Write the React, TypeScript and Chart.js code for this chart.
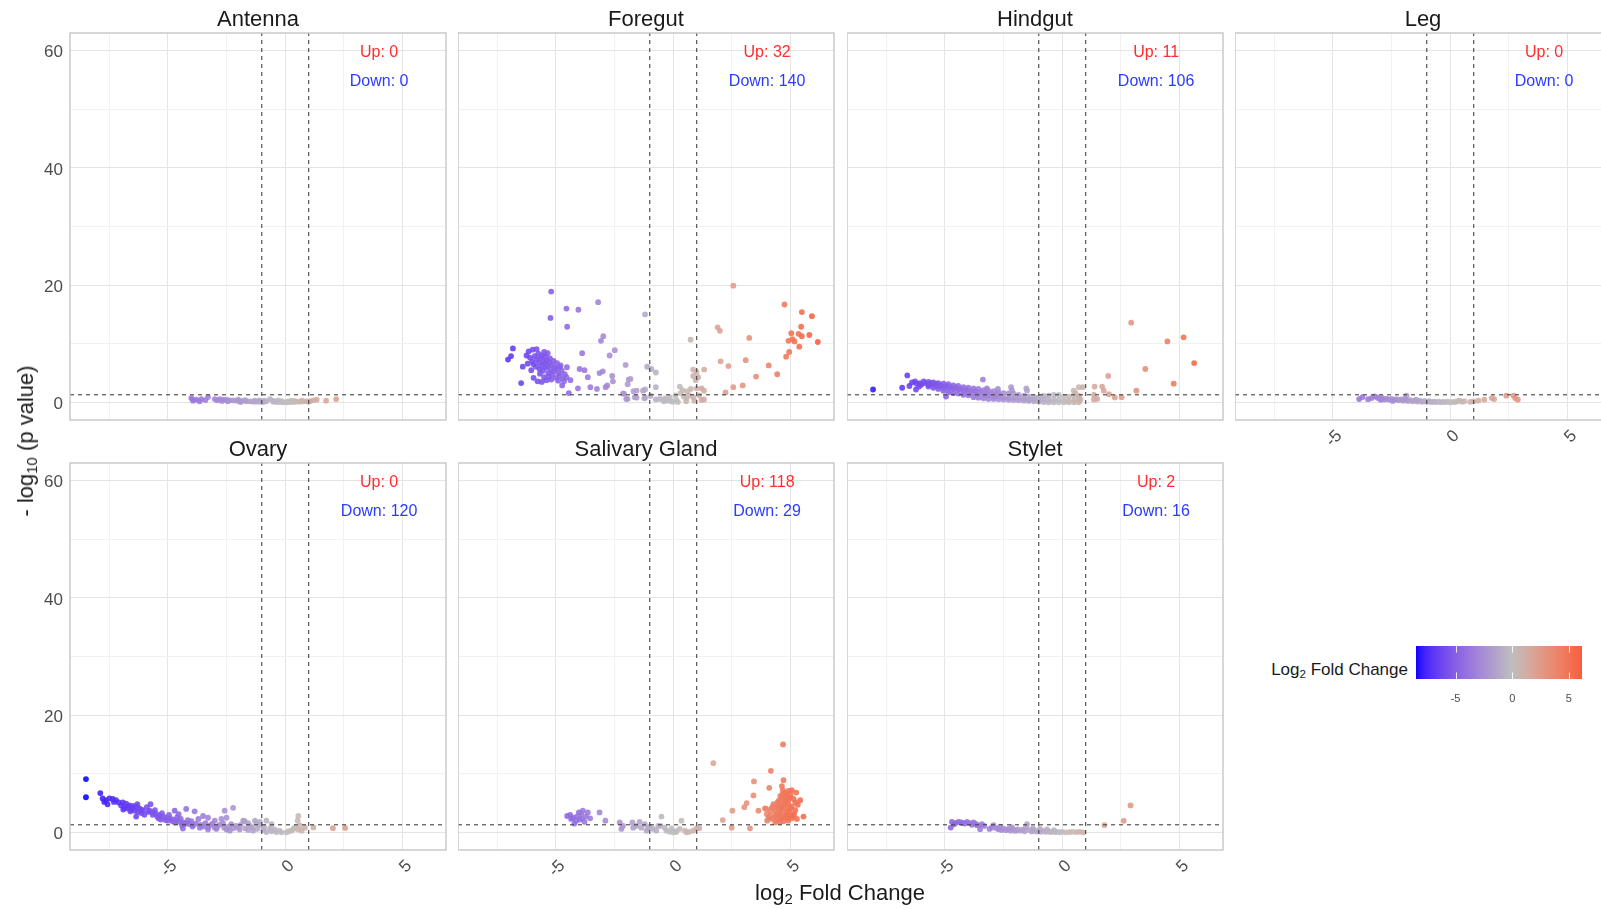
import React, { useEffect, useRef } from "react";
import { Chart, registerables } from "chart.js";

Chart.register(...registerables);

type Pt = [number, number];

// ---- data ----
const tissues = ["Antenna", "Foregut", "Hindgut", "Leg", "Ovary", "Salivary Gland", "Stylet"];
const upCounts = [0, 32, 11, 0, 0, 118, 2];
const downCounts = [0, 140, 106, 0, 120, 29, 16];
const xTickValues = [-5, 0, 5];
const yTickValues = [0, 20, 40, 60];
const foldCutoff = 1;
const pValueCutoff = 0.05;
const labelAt = { x: 4, upY: 60, downY: 55 };

// log2 fold change, -log10 p value
const antenna: Pt[] = [
  [-4.0, 0.74], [-3.93, 0.3], [-3.79, 0.46], [-3.65, 0.18], [-3.57, 0.57], [-3.29, 0.91], [-3.0, 0.57],
  [-2.79, 0.57], [-2.65, 0.46], [-2.51, 0.46], [-2.36, 0.35], [-2.22, 0.35], [-2.08, 0.29], [-1.94, 0.18],
  [-1.79, 0.29], [-1.65, 0.18], [-1.51, 0.18], [-1.37, 0.12], [-1.22, 0.12], [-1.08, 0.12], [-0.94, 0.06],
  [-0.8, 0.18], [-0.65, 0.57], [-0.51, 0.12], [-0.37, 0.06], [-0.23, 0.06], [-0.08, 0.02], [0.06, 0.02],
  [0.2, 0.06], [0.34, 0.06], [0.48, 0.12], [0.63, 0.12], [0.77, 0.18], [0.91, 0.18], [1.06, 0.23],
  [1.2, 0.35], [1.34, 0.46], [1.74, 0.29], [2.17, 0.57], [-2.9, 0.35], [-2.45, 0.2], [-2.0, 0.45],
  [-1.7, 0.4], [-1.3, 0.3], [-0.9, 0.3], [-0.5, 0.25], [-0.15, 0.2], [0.1, 0.15], [0.4, 0.25], [0.7, 0.3],
  [1.0, 0.1], [-3.4, 0.4], [-2.7, 0.25], [-1.9, 0.05], [-1.1, 0.35], [-0.3, 0.35], [0.25, 0.3],
];

const foregut: Pt[] = [
  [-5.2, 18.9], [-5.23, 14.4], [-4.55, 16.0], [-4.04, 15.8], [-3.2, 17.1], [-4.52, 12.9], [-1.2, 15.0],
  [-2.98, 11.3], [-3.08, 10.5], [-2.49, 8.9], [-2.71, 8.0], [-3.88, 8.4], [-6.83, 9.2], [-6.91, 7.9],
  [-7.04, 7.3], [-6.16, 8.7], [-5.99, 9.0], [-5.82, 9.1], [-6.41, 6.1], [-6.48, 3.3], [-4.45, 1.6],
  [-4.73, 2.9], [-4.38, 3.8], [-4.53, 6.0], [-4.83, 6.0], [-3.99, 5.7], [-3.78, 5.5], [-3.64, 4.3],
  [-4.06, 2.4], [-3.53, 2.6], [-3.25, 2.3], [-3.14, 5.0], [-3.0, 5.3], [-2.6, 4.5], [-2.57, 3.6],
  [-2.81, 2.9], [-2.88, 2.6], [-2.03, 6.4], [-1.9, 3.9], [-1.94, 3.1], [-2.14, 1.5], [-2.0, 0.6],
  [-1.69, 1.9], [-1.64, 0.9], [-1.29, 2.0], [-1.23, 0.7], [-1.11, 6.1], [-0.93, 5.7], [-0.74, 5.1],
  [-0.74, 2.6], [-0.74, 0.5], [-0.97, 1.1], [-1.82, 4.0], [-1.2, 2.2], [-1.2, 0.8], [-1.56, 2.0],
  [-1.56, 0.8], [-2.1, 1.5], [-1.95, 0.6],
  [-6.1, 7.6], [-6.0, 7.0], [-5.95, 6.5], [-5.9, 7.9], [-5.85, 6.1], [-5.8, 7.3], [-5.75, 8.3],
  [-5.72, 6.8], [-5.7, 5.7], [-5.68, 4.9], [-5.65, 7.6], [-5.6, 6.3], [-5.58, 8.0], [-5.55, 5.4],
  [-5.52, 7.0], [-5.5, 4.3], [-5.48, 6.6], [-5.45, 7.8], [-5.42, 5.9], [-5.4, 3.8], [-5.38, 7.2],
  [-5.35, 6.2], [-5.32, 5.0], [-5.3, 4.4], [-5.28, 6.8], [-5.25, 7.5], [-5.22, 5.6], [-5.2, 3.9],
  [-5.18, 6.4], [-5.15, 4.7], [-5.1, 7.1], [-5.08, 5.3], [-5.05, 6.0], [-5.0, 4.2], [-4.98, 5.7],
  [-4.95, 6.7], [-4.9, 3.7], [-4.88, 5.0], [-4.85, 4.5], [-4.8, 6.3], [-4.75, 5.4], [-4.7, 4.1],
  [-4.65, 3.6], [-4.62, 4.8], [-6.05, 5.5], [-6.2, 6.6], [-5.95, 4.2], [-5.78, 3.6], [-6.25, 8.0],
  [-5.5, 8.6], [-5.35, 8.4], [-5.6, 3.5], [-4.55, 4.3],
  [-0.57, 0.6], [-0.36, 0.7], [-0.22, 0.3], [-0.08, 0.2], [0.14, 0.4], [0.28, 2.7], [0.4, 2.1],
  [0.45, 1.0], [0.57, 0.6], [0.68, 1.2], [0.85, 0.9], [0.85, 5.6], [0.85, 4.5], [0.96, 3.8],
  [0.99, 5.2], [1.06, 4.3], [0.0, 0.1], [0.2, 0.05], [-0.4, 0.2], [0.1, 1.2], [0.32, 1.6], [0.6, 1.9],
  [0.75, 2.3], [0.9, 0.3], [1.0, 2.4], [-0.15, 0.9], [0.55, 0.2], [1.1, 1.2], [1.2, 0.4],
  [0.74, 10.7], [1.32, 5.6], [1.21, 2.4], [1.31, 2.0], [1.31, 0.5], [1.89, 12.8], [1.99, 12.2],
  [2.02, 7.0], [2.35, 6.2], [2.56, 19.9], [3.09, 7.2], [3.24, 11.0], [2.23, 1.7], [2.56, 2.6],
  [2.96, 2.9], [3.53, 4.4], [4.07, 6.3], [4.43, 4.8], [4.74, 16.7], [5.48, 15.4], [5.91, 14.7],
  [5.45, 12.9], [5.03, 11.8], [5.34, 11.7], [5.48, 11.3], [5.8, 11.5], [4.91, 10.5], [5.08, 10.8],
  [5.17, 10.4], [6.16, 10.3], [5.37, 9.5], [4.94, 8.6], [4.81, 7.8],
];

const hindgut: Pt[] = [
  [2.94, 13.6], [4.48, 10.4], [5.17, 11.1], [5.62, 6.7], [3.54, 5.7], [4.75, 3.2], [1.96, 4.5],
  [3.16, 2.0], [1.38, 2.7], [1.7, 2.7], [1.77, 2.0], [1.99, 1.4], [2.24, 0.85], [2.53, 0.9], [1.35, 1.3],
  [1.49, 0.6], [1.35, 0.5], [0.71, 2.6], [0.88, 2.6], [0.49, 2.0], [0.57, 1.6], [0.71, 1.0], [0.78, 0.5],
  [-8.06, 2.2], [-6.6, 4.6], [-6.82, 2.5], [-6.51, 2.8], [-6.27, 3.6], [-6.23, 2.2], [-6.06, 3.3],
  [-5.85, 3.3], [-5.7, 3.0], [-4.95, 1.0], [-3.38, 3.9], [-3.21, 2.4], [-2.74, 2.3], [-2.18, 2.6],
  [-2.14, 2.0], [-1.53, 2.4], [-1.5, 2.0], [-2.71, 1.3], [-6.4, 3.4], [-6.2, 3.2], [-6.0, 3.0],
  [-5.9, 3.6], [-6.1, 2.7],
  [-5.7, 3.5], [-5.7, 3.1], [-5.7, 2.7], [-5.49, 3.4], [-5.49, 3.0], [-5.49, 2.5],
  [-5.28, 3.3], [-5.28, 2.8], [-5.28, 2.3], [-5.06, 3.2], [-5.06, 2.6], [-5.06, 2.0],
  [-4.85, 3.1], [-4.85, 2.4], [-4.85, 1.7], [-4.64, 2.9], [-4.64, 2.3], [-4.64, 1.6],
  [-4.43, 2.8], [-4.43, 2.2], [-4.43, 1.5], [-4.21, 2.6], [-4.21, 1.9], [-4.21, 1.3],
  [-4.0, 2.5], [-4.0, 1.8], [-4.0, 1.2], [-3.78, 2.4], [-3.78, 1.6], [-3.78, 0.9],
  [-3.57, 2.3], [-3.57, 1.5], [-3.57, 0.8], [-3.35, 2.1], [-3.35, 1.3], [-3.35, 0.7],
  [-3.14, 2.0], [-3.14, 1.2], [-3.14, 0.6], [-2.92, 1.9], [-2.92, 1.0], [-2.92, 0.6],
  [-2.71, 1.7], [-2.71, 1.0], [-2.71, 0.55], [-2.5, 1.6], [-2.5, 0.9], [-2.5, 0.5],
  [-2.28, 1.55], [-2.28, 0.8], [-2.28, 0.45], [-2.07, 1.5], [-2.07, 0.8], [-2.07, 0.4],
  [-1.86, 1.3], [-1.86, 0.7], [-1.86, 0.35], [-1.64, 1.1], [-1.64, 0.6], [-1.64, 0.3],
  [-1.43, 1.0], [-1.43, 0.5], [-1.43, 0.25], [-1.21, 0.9], [-1.21, 0.45], [-1.21, 0.2],
  [-1.0, 0.9], [-1.0, 0.4], [-1.0, 0.12], [-0.79, 1.1], [-0.79, 0.5], [-0.79, 0.05],
  [-0.58, 1.15], [-0.58, 0.45], [-0.58, 0.02], [-0.36, 1.3], [-0.36, 0.5], [-0.36, 0.02],
  [-0.15, 1.3], [-0.15, 0.45], [-0.15, 0.02], [0.07, 1.0], [0.07, 0.35], [0.07, 0.02],
  [0.28, 1.0], [0.28, 0.3], [0.28, 0.02], [0.5, 1.1], [0.5, 0.35], [0.5, 0.02],
  [0.71, 1.1], [0.71, 0.4], [0.71, 0.02],
  [-5.6, 3.3], [-5.38, 3.2], [-5.17, 2.9], [-4.95, 2.8], [-4.74, 2.6], [-4.53, 2.5], [-4.32, 2.3],
  [-4.1, 2.2], [-3.9, 2.0], [-3.68, 1.9], [-3.46, 1.8], [-3.25, 1.6], [-3.03, 1.5], [-2.82, 1.4],
];

const leg: Pt[] = [
  [-3.88, 0.57], [-3.74, 0.91], [-3.35, 0.74], [-3.21, 1.03], [-3.1, 0.8], [-3.0, 0.6], [-2.9, 0.75],
  [-2.8, 0.5], [-2.7, 0.65], [-2.6, 0.45], [-2.5, 0.6], [-2.4, 0.4], [-2.3, 0.55], [-2.2, 0.35],
  [-2.1, 0.5], [-2.0, 0.3], [-1.86, 1.14], [-1.9, 0.45], [-1.8, 0.25], [-1.7, 0.4], [-1.6, 0.2],
  [-1.5, 0.35], [-1.4, 0.15], [-1.3, 0.3], [-1.2, 0.1], [-1.1, 0.25], [-1.0, 0.1], [-0.9, 0.2],
  [-0.8, 0.05], [-0.7, 0.15], [-0.6, 0.05], [-0.5, 0.15], [-0.4, 0.02], [-0.3, 0.1], [-0.2, 0.05],
  [-0.1, 0.15], [0.0, 0.02], [0.1, 0.1], [0.2, 0.05], [0.3, 0.2], [0.4, 0.3], [0.5, 0.1], [0.6, 0.2],
  [-3.5, 0.55], [-2.95, 0.45], [-2.45, 0.25], [-1.95, 0.6], [-1.45, 0.45], [0.99, 0.18], [1.2, 0.29],
  [1.45, 0.46], [1.77, 0.74], [1.87, 0.57], [2.39, 1.14], [2.7, 1.14], [2.88, 0.46], [2.77, 0.74],
  [0.85, 0.1],
];

const ovary: Pt[] = [
  [-8.49, 9.1], [-8.49, 6.0], [-7.88, 6.7], [-7.78, 5.8], [-7.64, 5.5], [-7.49, 5.8], [-7.35, 5.7],
  [-7.21, 5.5], [-7.71, 5.2], [-7.57, 4.8], [-6.92, 5.1], [-6.78, 4.9], [-6.64, 4.6], [-6.49, 4.5],
  [-6.35, 4.4], [-6.21, 4.1], [-6.07, 3.8], [-6.99, 4.6], [-6.85, 4.2], [-6.71, 4.1], [-6.56, 4.0],
  [-6.42, 3.7], [-6.28, 3.5], [-6.13, 3.3], [-6.35, 2.7], [-5.74, 4.8], [-5.78, 3.7], [-5.64, 3.4],
  [-5.5, 3.1], [-5.35, 2.95], [-5.21, 2.7], [-5.07, 2.55], [-4.93, 2.4], [-4.79, 2.2], [-4.64, 2.0],
  [-4.5, 1.8], [-4.36, 1.7], [-4.22, 1.6], [-4.07, 1.4], [-3.93, 1.2], [-4.71, 3.7], [-4.54, 3.1],
  [-4.22, 4.0], [-3.86, 3.6], [-3.5, 2.8], [-3.29, 2.5], [-2.58, 3.7], [-2.22, 4.2], [-3.0, 2.0],
  [-2.72, 2.3], [-2.5, 2.5], [-1.79, 2.0], [-1.58, 1.6], [-1.29, 2.0], [-1.08, 1.8], [-0.8, 2.0],
  [-0.58, 1.4], [0.56, 2.8], [0.53, 2.0],
  [-4.36, 0.65], [-3.64, 0.8], [-3.29, 0.5], [-2.93, 0.6], [-2.5, 0.5], [-2.36, 0.3], [-1.94, 0.5],
  [-1.58, 0.4], [-1.37, 0.3], [-0.94, 0.4], [-0.8, 0.05], [-0.58, 0.2], [-0.37, 0.05], [-0.16, 0.02],
  [0.06, 0.02], [0.27, 0.3], [0.41, 0.8], [0.56, 0.5], [0.7, 0.3], [0.84, 0.8], [-1.73, 1.9],
  [-1.23, 1.6], [-1.08, 1.2], [1.2, 0.85], [2.03, 0.73], [2.55, 0.77],
  [-6.9, 3.9], [-6.6, 3.6], [-6.3, 4.8], [-6.0, 3.0], [-5.9, 4.3], [-5.55, 3.8], [-5.4, 2.4],
  [-5.25, 3.3], [-5.1, 2.1], [-4.95, 3.0], [-4.8, 1.9], [-4.6, 2.6], [-4.45, 2.3], [-4.3, 1.4],
  [-4.15, 2.1], [-4.0, 1.9], [-3.8, 1.5], [-3.7, 2.3], [-3.6, 1.3], [-3.4, 1.6], [-3.2, 1.2],
  [-3.1, 1.5], [-2.9, 1.0], [-2.8, 1.3], [-2.65, 1.6], [-2.4, 1.0], [-2.3, 1.4], [-2.1, 1.1],
  [-2.0, 0.8], [-1.9, 1.3], [-1.5, 1.1], [-1.4, 0.8], [-7.1, 5.1], [-7.3, 5.2], [-6.7, 4.4],
  [-6.5, 4.2], [-6.15, 3.9], [-5.85, 3.5], [-5.65, 3.0], [-5.45, 2.7], [-5.3, 2.2], [-5.0, 2.0],
  [-4.7, 1.7], [-4.4, 1.2], [-3.95, 1.0], [-3.5, 1.0], [-3.3, 0.9], [-3.0, 0.8], [-2.6, 0.8],
  [-2.2, 0.7], [-1.7, 0.7], [-1.2, 0.6], [-0.9, 0.9], [-0.65, 0.7], [-0.45, 0.5], [-0.25, 0.3],
  [0.15, 0.2], [0.35, 0.6], [0.62, 1.2],
];

const salivaryGland: Pt[] = [
  [-4.52, 2.8], [-4.39, 3.0], [-4.28, 2.5], [-4.21, 1.5], [-4.11, 2.7], [-4.02, 3.4], [-3.92, 3.1],
  [-3.88, 2.3], [-3.78, 1.8], [-3.71, 2.7], [-3.64, 3.4], [-3.54, 2.4], [-3.99, 2.2], [-4.13, 2.0],
  [-3.14, 3.4], [-2.89, 2.0], [-4.35, 2.3], [-3.85, 3.7],
  [-2.28, 1.7], [-2.21, 0.6], [-2.14, 1.1], [-1.74, 1.7], [-1.71, 0.8], [-1.57, 1.1], [-1.43, 1.8],
  [-1.36, 0.8], [-1.21, 1.4], [-1.07, 0.7], [-0.86, 0.6], [-0.72, 0.3], [-0.5, 2.7], [-0.54, 1.1],
  [-0.29, 0.3], [-0.15, 0.1], [0.0, 0.02], [0.14, 0.2], [0.35, 2.0], [0.28, 0.6], [0.5, 0.3],
  [0.68, 0.1], [0.85, 0.3], [0.99, 0.7], [1.11, 0.7], [-0.36, 0.8], [-0.07, 0.7], [-0.64, 1.1],
  [-1.0, 1.0], [0.11, 0.05], [0.57, 0.02], [-1.14, 0.3],
  [1.71, 11.8], [4.68, 15.0], [4.16, 10.5], [3.44, 8.7], [4.7, 8.9], [4.09, 7.6], [3.42, 6.3],
  [3.13, 5.0], [3.03, 4.3], [2.52, 3.7], [2.11, 2.1], [3.63, 3.7], [3.91, 4.1], [4.63, 7.9],
  [4.67, 7.2], [5.05, 7.2], [5.24, 6.8], [4.84, 6.5], [5.41, 5.5], [5.31, 4.7], [5.55, 2.7],
  [5.27, 2.3], [3.99, 3.1], [4.06, 2.4], [4.2, 4.2], [4.34, 3.7], [4.48, 4.6], [4.63, 5.7],
  [4.77, 5.4], [4.91, 4.8], [4.98, 5.9], [5.13, 5.7], [4.56, 3.4], [4.34, 2.8], [4.2, 2.3],
  [4.41, 2.0], [4.7, 2.5], [4.84, 4.0], [4.63, 4.2], [4.77, 3.1], [4.95, 3.4], [5.05, 4.4],
  [4.44, 5.1], [4.27, 4.8], [3.96, 4.0], [4.13, 2.8], [4.56, 2.3], [4.87, 2.4], [5.09, 2.8],
  [5.2, 5.1], [4.56, 6.2], [4.77, 6.8], [4.91, 7.1], [2.49, 0.8], [3.27, 0.7],
  [4.5, 2.9], [4.6, 3.8], [4.7, 4.5], [4.8, 5.0], [4.9, 5.5], [4.75, 6.1], [4.65, 4.9], [4.4, 3.2],
  [4.3, 2.5], [4.45, 4.2], [4.85, 3.6], [5.0, 4.1], [5.15, 3.1], [4.55, 1.8], [4.7, 1.9], [4.35, 1.7],
  [4.0, 2.0], [4.15, 3.6], [4.25, 4.4], [4.5, 5.4], [4.65, 6.5], [4.85, 5.9], [5.0, 6.4], [4.9, 2.0],
  [5.05, 2.4], [5.2, 3.8], [4.6, 2.6], [4.8, 2.8], [4.95, 2.9],
];

const stylet: Pt[] = [
  [-4.7, 1.8], [-4.75, 0.83], [-4.61, 1.4], [-4.42, 1.8], [-4.24, 1.6], [-4.06, 1.8], [-3.78, 1.7],
  [-3.64, 1.24], [-3.5, 0.56], [-3.42, 1.4], [-3.32, 1.1], [-2.99, 0.84], [-2.93, 1.24], [-2.71, 0.56],
  [-1.5, 1.4], [1.8, 1.24], [2.62, 1.98], [2.91, 4.6], [-4.55, 1.6], [-4.3, 1.7], [-4.15, 1.5],
  [-3.95, 1.6], [-3.85, 1.3], [-3.7, 1.5], [-3.55, 1.2],
  [-2.8, 0.7], [-2.6, 0.4], [-2.5, 0.65], [-2.4, 0.35], [-2.3, 0.6], [-2.2, 0.3], [-2.1, 0.55],
  [-2.0, 0.25], [-1.9, 0.5], [-1.8, 0.3], [-1.7, 0.45], [-1.6, 0.2], [-1.4, 0.4], [-1.3, 0.15],
  [-1.2, 0.35], [-1.1, 0.15], [-1.0, 0.3], [-0.9, 0.1], [-0.8, 0.25], [-0.7, 0.1], [-0.6, 0.2],
  [-0.5, 0.05], [-0.4, 0.15], [-0.3, 0.05], [-0.2, 0.1], [-0.1, 0.02], [0.0, 0.1], [0.15, 0.02],
  [0.3, 0.05], [0.45, 0.1], [0.6, 0.05], [0.75, 0.1], [0.9, 0.02], [-1.55, 0.9], [-1.25, 0.7],
  [-0.95, 0.6], [-0.65, 0.5], [-0.35, 0.4], [-2.15, 0.9], [-2.65, 1.0], [-3.1, 0.6],
];

const panelData: Pt[][] = [antenna, foregut, hindgut, leg, ovary, salivaryGland, stylet];

// ---- look & layout ----
const FONT = '"Liberation Sans", Arial, Helvetica, sans-serif';
const X_MIN = -9.17;
const X_MAX = 6.85;
const Y_MIN = -3;
const Y_MAX = 63;
const PANEL_W = 376;
const PANEL_H = 387;
const COL_X = [70, 458, 847, 1235];
const ROW_Y = [33, 463];
const TITLE_H = 33;
const YAXIS_W = 70;
const XAXIS_H = 44;
const GRID_MAJOR = "#e4e4e4";
const GRID_MINOR = "#f1f1f1";
const FRAME = "#c6c6c6";
const REF_LINE = "#444444";
const TICK_TEXT = "#4d4d4d";
const UP_COLOR = "#ff2d2d";
const DOWN_COLOR = "#2b3bff";

// ---- diverging colour scale (blue - grey - red), interpolated in CIELAB ----
const LOW_RGB = [0, 0, 255];
const MID_RGB = [190, 190, 190];
const HIGH_RGB = [255, 0, 0];

function toLin(c: number) {
  const v = c / 255;
  return v <= 0.04045 ? v / 12.92 : Math.pow((v + 0.055) / 1.055, 2.4);
}
function fromLin(c: number) {
  const v = c <= 0.0031308 ? 12.92 * c : 1.055 * Math.pow(c, 1 / 2.4) - 0.055;
  return Math.round(Math.max(0, Math.min(1, v)) * 255);
}
const XN = 0.95047, YN = 1.0, ZN = 1.08883;
function rgbToLab(rgb: number[]) {
  const r = toLin(rgb[0]), g = toLin(rgb[1]), b = toLin(rgb[2]);
  const X = (0.4124 * r + 0.3576 * g + 0.1805 * b) / XN;
  const Y = (0.2126 * r + 0.7152 * g + 0.0722 * b) / YN;
  const Z = (0.0193 * r + 0.1192 * g + 0.9505 * b) / ZN;
  const f = (t: number) => (t > 0.008856 ? Math.cbrt(t) : 7.787 * t + 16 / 116);
  const fx = f(X), fy = f(Y), fz = f(Z);
  return [116 * fy - 16, 500 * (fx - fy), 200 * (fy - fz)];
}
function labToRgb(lab: number[]) {
  const fy = (lab[0] + 16) / 116;
  const fx = fy + lab[1] / 500;
  const fz = fy - lab[2] / 200;
  const inv = (t: number) => (t * t * t > 0.008856 ? t * t * t : (t - 16 / 116) / 7.787);
  const X = inv(fx) * XN, Y = inv(fy) * YN, Z = inv(fz) * ZN;
  const r = 3.2406 * X - 1.5372 * Y - 0.4986 * Z;
  const g = -0.9689 * X + 1.8758 * Y + 0.0415 * Z;
  const b = 0.0557 * X - 0.204 * Y + 1.057 * Z;
  return [fromLin(r), fromLin(g), fromLin(b)];
}
const LOW_LAB = rgbToLab(LOW_RGB);
const MID_LAB = rgbToLab(MID_RGB);
const HIGH_LAB = rgbToLab(HIGH_RGB);

const allX = panelData.flat().map((p) => p[0]);
const colourLo = Math.min(...allX);
const colourHi = Math.max(...allX);
const colourSpan = Math.max(Math.abs(colourLo), Math.abs(colourHi));

function foldColour(v: number, alpha = 1) {
  const t = Math.max(0, Math.min(1, 0.5 + v / (2 * colourSpan)));
  let a: number[], b: number[], s: number;
  if (t < 0.5) {
    a = LOW_LAB; b = MID_LAB; s = t / 0.5;
  } else {
    a = MID_LAB; b = HIGH_LAB; s = (t - 0.5) / 0.5;
  }
  const lab = [0, 1, 2].map((i) => a[i] + (b[i] - a[i]) * s);
  const [r, g, bl] = labToRgb(lab);
  return `rgba(${r},${g},${bl},${alpha})`;
}

const pThreshold = -Math.log10(pValueCutoff);

// keep the plotting area fixed: no extra room for tick labels
function lockPadding(s: any) {
  s.paddingTop = 0;
  s.paddingBottom = 0;
  s.paddingLeft = 0;
  s.paddingRight = 0;
}

// panel frame on top of everything
const framePlugin = {
  id: "panelFrame",
  afterDraw(chart: any) {
    const { ctx, chartArea: a } = chart;
    ctx.save();
    ctx.strokeStyle = FRAME;
    ctx.lineWidth = 1.4;
    ctx.strokeRect(a.left, a.top, a.right - a.left, a.bottom - a.top);
    ctx.restore();
  },
};

function countLabelPlugin(up: number, down: number) {
  return {
    id: "countLabels",
    afterDatasetsDraw(chart: any) {
      const { ctx } = chart;
      const xs = chart.scales.x;
      const ys = chart.scales.y;
      ctx.save();
      ctx.font = `16px ${FONT}`;
      ctx.textAlign = "center";
      ctx.textBaseline = "middle";
      ctx.fillStyle = UP_COLOR;
      ctx.fillText(`Up: ${up}`, xs.getPixelForValue(labelAt.x), ys.getPixelForValue(labelAt.upY) + 2);
      ctx.fillStyle = DOWN_COLOR;
      ctx.fillText(`Down: ${down}`, xs.getPixelForValue(labelAt.x), ys.getPixelForValue(labelAt.downY) + 1.5);
      ctx.restore();
    },
  };
}

function Panel({ idx }: { idx: number }) {
  const ref = useRef<HTMLCanvasElement>(null);
  const row = Math.floor(idx / 4);
  const col = idx % 4;
  const showY = col === 0;
  const showX = row === 1 || idx === 3;
  const padL = showY ? YAXIS_W : 0;
  const padB = showX ? XAXIS_H : 0;
  const width = padL + PANEL_W + 1;
  const height = TITLE_H + PANEL_H + padB + 1;
  const left = COL_X[col] - padL;
  const top = ROW_Y[row] - TITLE_H;

  useEffect(() => {
    const pts = panelData[idx];
    const dash = (data: { x: number; y: number }[]) => ({
      data,
      showLine: true,
      borderColor: REF_LINE,
      borderWidth: 1.1,
      borderDash: [4, 4],
      pointRadius: 0,
      order: 0,
    });
    const chart = new Chart(ref.current as HTMLCanvasElement, {
      type: "scatter",
      data: {
        datasets: [
          dash([{ x: -foldCutoff, y: Y_MIN }, { x: -foldCutoff, y: Y_MAX }]),
          dash([{ x: foldCutoff, y: Y_MIN }, { x: foldCutoff, y: Y_MAX }]),
          dash([{ x: X_MIN, y: pThreshold }, { x: X_MAX, y: pThreshold }]),
          {
            data: pts.map(([x, y]) => ({ x, y })),
            pointBackgroundColor: pts.map(([x]) => foldColour(x, 0.88)),
            pointBorderWidth: 0,
            pointBorderColor: "rgba(0,0,0,0)",
            pointRadius: 2.9,
            order: 1,
          },
        ],
      } as any,
      options: {
        responsive: false,
        animation: false,
        events: [],
        layout: { autoPadding: false, padding: { left: 0, right: 1, top: 0, bottom: 1 } },
        plugins: {
          legend: { display: false },
          tooltip: { enabled: false },
          title: {
            display: true,
            text: tissues[idx],
            fullSize: false,
            color: "#1a1a1a",
            font: { size: 22, family: FONT, weight: "normal", lineHeight: 1 },
            padding: { top: 9.2, bottom: 1.8 },
          },
        },
        scales: {
          x: {
            type: "linear",
            min: X_MIN,
            max: X_MAX,
            afterFit: (s: any) => {
              s.height = padB;
              lockPadding(s);
            },
            border: { display: false },
            grid: {
              drawTicks: false,
              lineWidth: 1,
              color: (c: any) => (c.tick && Math.abs(c.tick.value % 5) < 1e-9 ? GRID_MAJOR : GRID_MINOR),
            },
            ticks: {
              display: showX,
              stepSize: 2.5,
              includeBounds: false,
              autoSkip: false,
              minRotation: 45,
              maxRotation: 45,
              padding: 6,
              labelOffset: 6.5,
              color: TICK_TEXT,
              font: { size: 17, family: FONT },
              callback: (v: any) => (xTickValues.includes(Number(v)) ? String(v) : ""),
            },
          },
          y: {
            type: "linear",
            min: Y_MIN,
            max: Y_MAX,
            afterFit: (s: any) => {
              s.width = padL;
              lockPadding(s);
            },
            border: { display: false },
            grid: {
              drawTicks: false,
              lineWidth: 1,
              color: (c: any) => (c.tick && Math.abs(c.tick.value % 20) < 1e-9 ? GRID_MAJOR : GRID_MINOR),
            },
            ticks: {
              display: showY,
              stepSize: 10,
              includeBounds: false,
              padding: 7,
              labelOffset: 2,
              color: TICK_TEXT,
              font: { size: 17, family: FONT },
              callback: (v: any) => (yTickValues.includes(Number(v)) ? String(v) : ""),
            },
          },
        },
      } as any,
      plugins: [framePlugin, countLabelPlugin(upCounts[idx], downCounts[idx])],
    });
    return () => chart.destroy();
  }, [idx]);

  return (
    <canvas
      ref={ref}
      width={width}
      height={height}
      style={{ position: "absolute", left, top, width, height }}
    />
  );
}

// colour bar for the fold-change scale
const BAR_LEFT = 1416;
const BAR_TOP = 646;
const BAR_W = 166;
const BAR_H = 33;
const BAR_AXIS_H = 27;

function ColourBar() {
  const ref = useRef<HTMLCanvasElement>(null);
  useEffect(() => {
    const gradientPlugin = {
      id: "gradientBar",
      beforeDatasetsDraw(chart: any) {
        const { ctx, chartArea: a } = chart;
        const xs = chart.scales.x;
        ctx.save();
        for (let px = a.left; px < a.right; px += 1) {
          ctx.fillStyle = foldColour(xs.getValueForPixel(px + 0.5));
          ctx.fillRect(px, a.top, 1.2, a.bottom - a.top);
        }
        ctx.strokeStyle = "rgba(255,255,255,0.85)";
        ctx.lineWidth = 1;
        const tl = (a.bottom - a.top) / 5;
        xTickValues.forEach((v) => {
          const x = Math.round(xs.getPixelForValue(v)) + 0.5;
          ctx.beginPath();
          ctx.moveTo(x, a.top);
          ctx.lineTo(x, a.top + tl);
          ctx.moveTo(x, a.bottom);
          ctx.lineTo(x, a.bottom - tl);
          ctx.stroke();
        });
        ctx.restore();
      },
    };
    const chart = new Chart(ref.current as HTMLCanvasElement, {
      type: "scatter",
      data: { datasets: [{ data: [] }] },
      options: {
        responsive: false,
        animation: false,
        events: [],
        layout: { autoPadding: false, padding: 0 },
        plugins: { legend: { display: false }, tooltip: { enabled: false } },
        scales: {
          x: {
            type: "linear",
            min: colourLo,
            max: colourHi,
            afterBuildTicks: (s: any) => {
              s.ticks = xTickValues.map((v) => ({ value: v }));
            },
            afterFit: (s: any) => {
              s.height = BAR_AXIS_H;
              lockPadding(s);
            },
            border: { display: false },
            grid: { display: false },
            ticks: {
              autoSkip: false,
              maxRotation: 0,
              padding: 5,
              color: TICK_TEXT,
              font: { size: 11, family: FONT },
            },
          },
          y: { display: false, min: 0, max: 1 },
        },
      } as any,
      plugins: [gradientPlugin],
    });
    return () => chart.destroy();
  }, []);
  const h = BAR_H + BAR_AXIS_H;
  return (
    <canvas
      ref={ref}
      width={BAR_W}
      height={h}
      style={{ position: "absolute", left: BAR_LEFT, top: BAR_TOP, width: BAR_W, height: h }}
    />
  );
}

const subStyle: React.CSSProperties = { fontSize: "0.68em", verticalAlign: "-0.3em", lineHeight: 0 };

export default function App() {
  return (
    <div
      style={{
        position: "fixed",
        left: 0,
        top: 0,
        width: 1601,
        height: 909,
        overflow: "hidden",
        background: "#ffffff",
        fontFamily: FONT,
      }}
    >
      {tissues.map((_, i) => (
        <Panel key={i} idx={i} />
      ))}
      <ColourBar />
      <div
        style={{
          position: "absolute",
          left: 26,
          top: 441,
          transform: "translate(-50%, -50%) rotate(-90deg)",
          whiteSpace: "nowrap",
          fontSize: 22,
          lineHeight: 1,
          color: "#1a1a1a",
        }}
      >
        - log<sub style={subStyle}>10</sub> (p value)
      </div>
      <div
        style={{
          position: "absolute",
          left: 840,
          top: 893,
          transform: "translate(-50%, -50%)",
          whiteSpace: "nowrap",
          fontSize: 22,
          lineHeight: 1,
          color: "#1a1a1a",
        }}
      >
        log<sub style={subStyle}>2</sub> Fold Change
      </div>
      <div
        style={{
          position: "absolute",
          right: 1601 - 1408,
          top: 669,
          transform: "translateY(-50%)",
          whiteSpace: "nowrap",
          fontSize: 17,
          lineHeight: 1,
          color: "#1a1a1a",
        }}
      >
        Log<sub style={subStyle}>2</sub> Fold Change
      </div>
    </div>
  );
}
